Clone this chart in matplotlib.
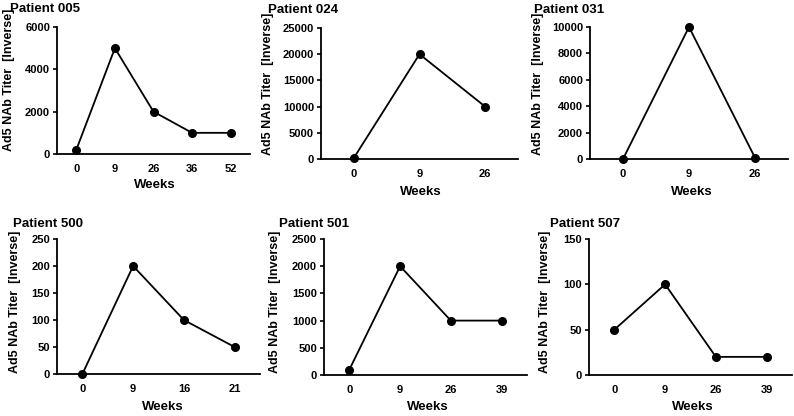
"""Ad5 NAb titer over time, six patients."""

import matplotlib

matplotlib.use("Agg")
from matplotlib import pyplot as plt

plt.rcParams["font.family"] = ["Liberation Sans", "DejaVu Sans"]
plt.rcParams["font.weight"] = "bold"

W, H = 794, 416

patients = ["Patient 005", "Patient 024", "Patient 031", "Patient 500", "Patient 501", "Patient 507"]
weeks = [
    ["0", "9", "26", "36", "52"],
    ["0", "9", "26"],
    ["0", "9", "26"],
    ["0", "9", "16", "21"],
    ["0", "9", "26", "39"],
    ["0", "9", "26", "39"],
]
titers = [
    [200, 5000, 2000, 1000, 1000],
    [200, 20000, 10000],
    [0, 10000, 100],
    [0, 200, 100, 50],
    [100, 2000, 1000, 1000],
    [50, 100, 20, 20],
]
y_max = [6000, 25000, 10000, 250, 2500, 150]
y_step = [2000, 5000, 2000, 50, 500, 50]

# pixel boxes (left, right, top, bottom) and text anchors
boxes = [
    (57, 250, 27, 154),
    (321, 518, 28, 159),
    (590, 788, 27, 159),
    (57, 260, 239, 374),
    (324, 527, 239, 375),
    (589, 792, 239, 375),
]
title_xy = [(10, 3), (268, 4), (534, 4), (13, 218), (279, 218), (550, 218)]
ylab_xy = [(9, 80), (268, 84), (538, 84), (15, 302), (275, 302), (545, 302)]
xlab_xy = [(155, 185), (421, 192), (692, 192), (163, 407), (428, 407), (693, 407)]

fig = plt.figure(figsize=(W / 100, H / 100), dpi=100)

for i, name in enumerate(patients):
    l, r, t, b = boxes[i]
    ax = fig.add_axes([l / W, 1 - b / H, (r - l) / W, (b - t) / H])
    xs = list(range(len(weeks[i])))
    ax.plot(xs, titers[i], color="black", lw=1.3, marker="o", ms=5.5, clip_on=False, zorder=3)
    ax.set_xlim(-0.5, len(xs) - 0.5)
    ax.set_ylim(0, y_max[i])
    ax.set_xticks(xs)
    ax.set_xticklabels(weeks[i])
    ax.set_yticks(list(range(0, y_max[i] + 1, y_step[i])))
    ax.tick_params(axis="x", length=0, pad=7, labelsize=8)
    ax.tick_params(axis="y", length=3, width=1.2, pad=2, labelsize=8)
    for lab in ax.get_xticklabels() + ax.get_yticklabels():
        lab.set_fontweight("bold")
    for side in ("top", "right"):
        ax.spines[side].set_visible(False)
    for side in ("left", "bottom"):
        ax.spines[side].set_linewidth(1.3)

    tx, ty = title_xy[i]
    fig.text(tx / W, 1 - ty / H, name, ha="left", va="top", fontsize=9.5, fontweight="bold")
    lx, ly = ylab_xy[i]
    fig.text(lx / W, 1 - ly / H, "Ad5 NAb Titer  [Inverse]", rotation=90,
             ha="center", va="center", fontsize=9, fontweight="bold")
    wx, wy = xlab_xy[i]
    fig.text(wx / W, 1 - wy / H, "Weeks", ha="center", va="center", fontsize=9.5, fontweight="bold")

fig.savefig("out.png", dpi=100)
